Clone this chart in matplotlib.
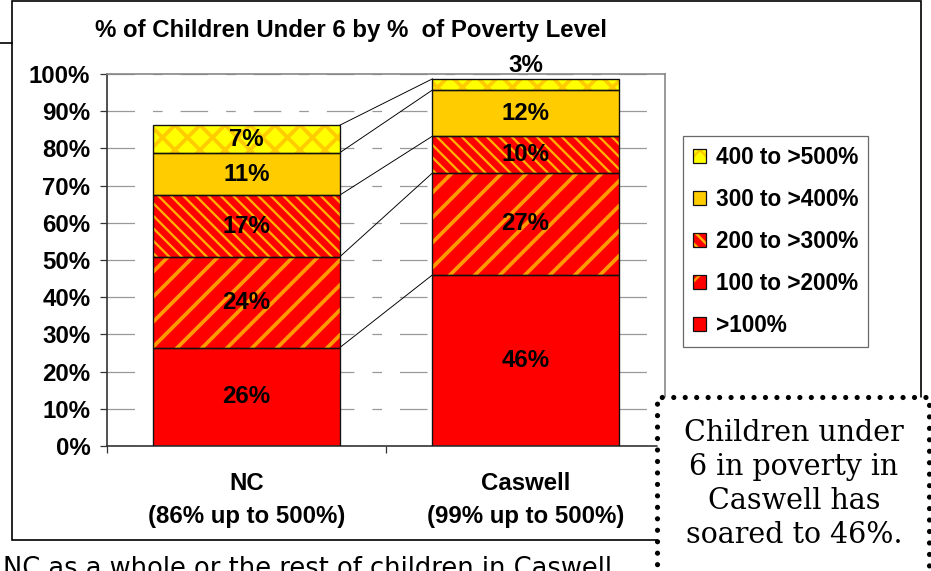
import numpy as np
import matplotlib
matplotlib.use("Agg")
import matplotlib.pyplot as plt
from matplotlib.patches import Patch, Rectangle
from matplotlib.lines import Line2D
from matplotlib.legend_handler import HandlerTuple
from matplotlib.transforms import blended_transform_factory

groups = ['NC', 'Caswell']
group_notes = ['(86% up to 500%)', '(99% up to 500%)']
levels = ['>100%', '100 to >200%', '200 to >300%', '300 to >400%', '400 to >500%']
nc = [26.4, 24.4, 16.6, 11.4, 7.4]
caswell = [46.0, 27.4, 9.9, 12.4, 3.0]
yticks = np.arange(0, 101, 10)

# base colour, hatch, hatch colour, hatch line width for each level
styles = [
    ('#FF0000', None, None, 0),
    ('#FF0000', '/', '#FF9900', 3.6),
    ('#FF0000', '\\\\', '#FFB000', 2.2),
    ('#FFCC00', None, None, 0),
    ('#FFFF00', 'x', '#FFCC00', 3.6),
]

W, H, DPI = 931, 571, 75
FS = 23
plt.rcParams['font.family'] = ['Liberation Sans', 'DejaVu Sans']
fig = plt.figure(figsize=(W / DPI, H / DPI), dpi=DPI)


def fx(x):
    return x / W


def fy(y):
    return 1 - y / H


def hatched(factory, w):
    # hatch line width is picked up when the patch is made (and on draw in
    # older releases), so set it both ways
    with plt.rc_context({'hatch.linewidth': w}):
        made = factory()
    patches = made if isinstance(made, (list, tuple)) or hasattr(made, 'patches') else [made]
    for p in patches:
        if hasattr(p, 'set_hatch_linewidth'):
            p.set_hatch_linewidth(w)
        orig = p.draw

        def draw(renderer, orig=orig):
            with plt.rc_context({'hatch.linewidth': w}):
                orig(renderer)
        p.draw = draw
    return made


ax = fig.add_axes([fx(107), fy(446), fx(665) - fx(107), fy(74) - fy(446)])

x = np.arange(len(groups))
width = 0.667
data = np.array([nc, caswell]).T
bottom = np.zeros(len(groups))
tops = []

for i, level in enumerate(levels):
    vals = data[i]
    base, hatch, hcol, hw = styles[i]
    ax.bar(x, vals, width, bottom=bottom, color=base, linewidth=0, zorder=2)
    if hatch:
        hatched(lambda: ax.bar(x, vals, width, bottom=bottom, facecolor='none',
                               edgecolor=hcol, hatch=hatch, linewidth=0, zorder=3), hw)
    ax.bar(x, vals, width, bottom=bottom, facecolor='none', edgecolor='#111111',
           linewidth=1.3, zorder=4)
    for xi, v, b0 in zip(x, vals, bottom):
        yl = b0 + v / 2 if v >= 5 else b0 + v + 3.7
        ax.text(xi, yl, f'{v:.0f}%', ha='center', va='center', fontsize=FS,
                fontweight='bold', zorder=5, clip_on=False)
    bottom = bottom + vals
    tops.append(bottom.copy())

# series lines between the two stacks
for t in tops:
    ax.plot([x[0] + width / 2, x[1] - width / 2], [t[0], t[1]], color='black',
            lw=0.9, zorder=1)

ax.set_xlim(-0.5, 1.5)
ax.set_ylim(0, 100)
ax.set_yticks(yticks)
ax.set_yticklabels([f'{v}%' for v in yticks], fontsize=FS, fontweight='bold')
ax.set_xticks([-0.5, 0.5, 1.5])
ax.set_xticklabels([])
ax.tick_params(axis='both', direction='out', length=7, width=1.2, color='#333333', pad=9)
ax.yaxis.grid(True, color='#999999', lw=1.2, linestyle=(0, (22, 14.4, 7.7, 14.4)))
ax.set_axisbelow(True)
for s in ['left', 'bottom']:
    ax.spines[s].set_color('#333333')
    ax.spines[s].set_linewidth(1.6)
for s in ['top', 'right']:
    ax.spines[s].set_color('#888888')
    ax.spines[s].set_linewidth(1.6)

trans = blended_transform_factory(ax.transData, fig.transFigure)
for xi, g, note in zip(x, groups, group_notes):
    ax.text(xi, fy(483), g, transform=trans, ha='center', va='center',
            fontsize=FS, fontweight='bold')
    ax.text(xi, fy(517), note, transform=trans, ha='center', va='center',
            fontsize=FS, fontweight='bold')

fig.text(fx(351), fy(30), '% of Children Under 6 by %  of Poverty Level',
         ha='center', va='center', fontsize=FS, fontweight='bold')

# legend, highest level on top; legend copies of the patches take the rc width
plt.rcParams['hatch.linewidth'] = 2.4
handles = []
for base, hatch, hcol, hw in styles:
    parts = [Patch(facecolor=base, linewidth=0)]
    if hatch:
        parts.append(Patch(facecolor='none', edgecolor=hcol, hatch=hatch, linewidth=0))
    parts.append(Patch(facecolor='none', edgecolor='#111111', linewidth=1.2))
    handles.append(tuple(parts))
leg = fig.legend(handles[::-1], levels[::-1], loc='upper left',
                 bbox_to_anchor=(fx(683), fy(136)), borderaxespad=0,
                 handler_map={tuple: HandlerTuple(ndivide=1, pad=0)},
                 prop={'size': 21.7, 'weight': 'bold'}, frameon=True, fancybox=False,
                 edgecolor='#444444', handlelength=0.55, handleheight=0.55,
                 handletextpad=0.45, labelspacing=0.84, borderpad=0.45)
leg.get_frame().set_linewidth(1.2)
for p in leg.findobj(Rectangle):
    if p.get_hatch():
        hatched(lambda p=p: p, 2.4)

# outer chart frame
fig.patches.append(Rectangle((fx(12), fy(540)), fx(921) - fx(12), fy(1) - fy(540),
                             transform=fig.transFigure, fill=False, ec='black', lw=1.6))
fig.add_artist(Line2D([0, fx(12)], [fy(43), fy(43)], transform=fig.transFigure,
                      color='black', lw=1.6))

# dotted callout box
box = Rectangle((fx(657), fy(580)), fx(929) - fx(657), fy(397) - fy(580),
                transform=fig.transFigure, facecolor='white', edgecolor='black',
                lw=5, linestyle=(0, (0.001, 2.2)), capstyle='round', zorder=10)
fig.patches.append(box)
fig.text(fx(794), fy(484), 'Children under\n6 in poverty in\nCaswell has\nsoared to 46%.',
         ha='center', va='center', fontsize=27.4, family='DejaVu Serif',
         linespacing=1.26, zorder=11)

fig.text(fx(3), fy(576), 'NC as a whole or the rest of children in Caswell',
         ha='left', va='baseline', fontsize=24.7, family='DejaVu Sans')

fig.savefig('out.png', dpi=DPI)
